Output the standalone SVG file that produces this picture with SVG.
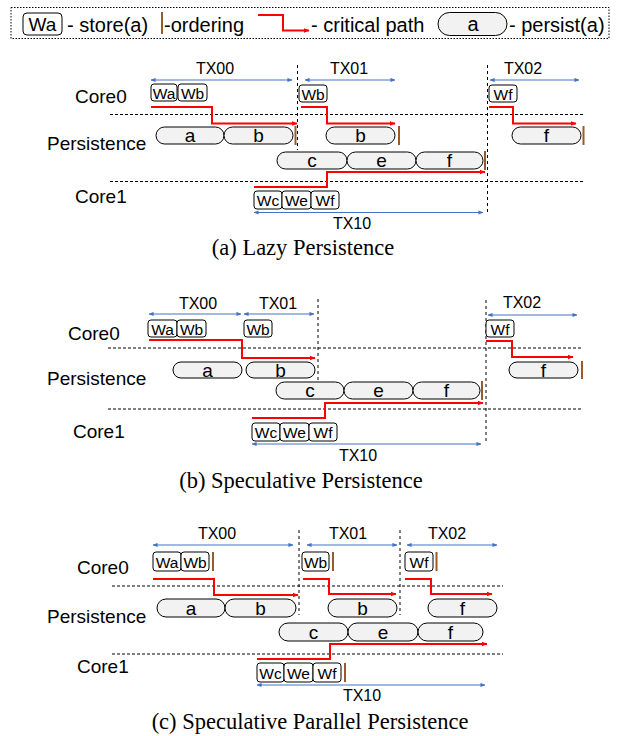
<svg xmlns="http://www.w3.org/2000/svg" width="618" height="736" viewBox="0 0 618 736">
<defs>
<marker id="ar" viewBox="0 0 6 6" refX="5.5" refY="3" markerWidth="6" markerHeight="6" markerUnits="userSpaceOnUse" orient="auto"><path d="M0,0.5 L6,3 L0,5.5 z" fill="#FF0000"/></marker>
<marker id="ab" viewBox="0 0 6 6" refX="5.5" refY="3" markerWidth="5" markerHeight="5" markerUnits="userSpaceOnUse" orient="auto-start-reverse"><path d="M0,0.5 L6,3 L0,5.5 z" fill="#4472C4"/></marker>
</defs>
<style>
.lbl{font-family:"Liberation Sans",Arial,sans-serif;font-size:19px;fill:#000}
.lg{font-family:"Liberation Sans",Arial,sans-serif;font-size:20px;fill:#000}
.tx{font-family:"Liberation Sans",Arial,sans-serif;font-size:16px;fill:#000;text-anchor:middle}
.bt{font-family:"Liberation Sans",Arial,sans-serif;font-size:15.5px;fill:#000;text-anchor:middle}
.pt{font-family:"Liberation Sans",Arial,sans-serif;font-size:19px;fill:#000;text-anchor:middle}
.cap{font-family:"Liberation Serif","Times New Roman",serif;font-size:22.5px;fill:#000;text-anchor:middle}
.box{fill:#fff;stroke:#000;stroke-width:1}
.pill{fill:#F2F2F2;stroke:#000;stroke-width:1}
.ord{stroke:#9C5A2A;stroke-width:2}
.crit{fill:none;stroke:#FF0000;stroke-width:2;marker-end:url(#ar)}
.blue{stroke:#4472C4;stroke-width:1;marker-start:url(#ab);marker-end:url(#ab)}
.sep{stroke:#000;stroke-width:1;stroke-dasharray:3,2}
.vd{stroke:#000;stroke-width:1;stroke-dasharray:3,3}
</style>
<rect width="618" height="736" fill="#fff"/>

<!-- Legend -->
<g id="legend">
<rect x="11" y="7.5" width="598" height="31" fill="none" stroke="#000" stroke-width="1" stroke-dasharray="1.5,1.5"/>
<rect class="box" x="23" y="13" width="39" height="22" rx="4"/>
<text class="lg" x="42.5" y="31" text-anchor="middle" style="font-size:19px">Wa</text>
<text class="lg" x="67" y="32">- store(a)</text>
<line class="ord" x1="162" y1="12" x2="162" y2="34"/>
<text class="lg" x="164" y="32">-ordering</text>
<path class="crit" d="M258,15 H283 V30.5 H309"/>
<text class="lg" x="311" y="32">- critical path</text>
<rect class="pill" x="438" y="12.5" width="69" height="23" rx="11.5"/>
<text class="lg" x="473" y="31" text-anchor="middle">a</text>
<text class="lg" x="509" y="32">- persist(a)</text>
</g>

<!-- ============ Panel (a) ============ -->
<g id="a-labels">
<text class="lbl" x="75" y="103">Core0</text>
<text class="lbl" x="47" y="150">Persistence</text>
<text class="lbl" x="75" y="203">Core1</text>
<text class="tx" x="215" y="74">TX00</text>
<text class="tx" x="349" y="74">TX01</text>
<text class="tx" x="523" y="74">TX02</text>
<text class="tx" x="352" y="229">TX10</text>
<text class="cap" x="303" y="255">(a) Lazy Persistence</text>
</g>
<g id="a-guides">
<line class="sep" x1="110" y1="114.5" x2="583" y2="114.5"/>
<line class="sep" x1="110" y1="181.5" x2="583" y2="181.5"/>
<line class="vd" x1="297.5" y1="65" x2="297.5" y2="150"/>
<line class="vd" x1="487.5" y1="65" x2="487.5" y2="213"/>
</g>
<g id="a-core0">
<rect class="box" x="151" y="84" width="26" height="17" rx="3"/><text class="bt" x="164" y="98.5">Wa</text>
<rect class="box" x="178" y="84" width="29" height="17" rx="3"/><text class="bt" x="192.5" y="98.5">Wb</text>
<rect class="box" x="299" y="85" width="28" height="17" rx="3"/><text class="bt" x="313" y="99.5">Wb</text>
<rect class="box" x="489" y="85" width="28" height="17" rx="3"/><text class="bt" x="503" y="99.5">Wf</text>
</g>
<g id="a-persist">
<rect class="pill" x="156" y="127" width="68" height="17" rx="8.5"/><text class="pt" x="190" y="142">a</text>
<rect class="pill" x="224" y="127" width="69" height="17" rx="8.5"/><text class="pt" x="258.5" y="142">b</text>
<line class="ord" x1="295.5" y1="126" x2="295.5" y2="145"/>
<rect class="pill" x="326" y="127" width="69" height="17" rx="8.5"/><text class="pt" x="360.5" y="142">b</text>
<line class="ord" x1="399" y1="126" x2="399" y2="145"/>
<rect class="pill" x="512" y="127" width="69" height="17" rx="8.5"/><text class="pt" x="546.5" y="142">f</text>
<line class="ord" x1="583.5" y1="126" x2="583.5" y2="145"/>
<rect class="pill" x="277" y="152" width="70" height="17" rx="8.5"/><text class="pt" x="312" y="167">c</text>
<rect class="pill" x="347" y="152" width="69" height="17" rx="8.5"/><text class="pt" x="381.5" y="167">e</text>
<rect class="pill" x="416" y="152" width="67" height="17" rx="8.5"/><text class="pt" x="449.5" y="167">f</text>
<line class="ord" x1="485" y1="151" x2="485" y2="170"/>
</g>
<g id="a-core1">
<rect class="box" x="254" y="191" width="28" height="18" rx="3"/><text class="bt" x="268" y="205.5">Wc</text>
<rect class="box" x="282" y="191" width="29" height="18" rx="3"/><text class="bt" x="296.5" y="205.5">We</text>
<rect class="box" x="311" y="191" width="28" height="18" rx="3"/><text class="bt" x="325" y="205.5">Wf</text>
</g>
<g id="a-connectors">
<line class="blue" x1="151" y1="80" x2="292" y2="80"/>
<line class="blue" x1="305" y1="80" x2="395" y2="80"/>
<line class="blue" x1="490" y1="80" x2="579" y2="80"/>
<line class="blue" x1="254" y1="212.5" x2="483" y2="212.5"/>
<path class="crit" d="M151,107 H212 V123.5 H297"/>
<path class="crit" d="M301,107 H327 V123.5 H395"/>
<path class="crit" d="M489,107 H513 V123.5 H576"/>
<path class="crit" d="M254,187 H327 V172 H485"/>
</g>

<!-- ============ Panel (b) ============ -->
<g id="b-labels">
<text class="lbl" x="68" y="340">Core0</text>
<text class="lbl" x="47" y="385">Persistence</text>
<text class="lbl" x="73" y="438">Core1</text>
<text class="tx" x="198" y="309">TX00</text>
<text class="tx" x="278" y="309">TX01</text>
<text class="tx" x="522" y="308">TX02</text>
<text class="tx" x="358" y="461">TX10</text>
<text class="cap" x="301" y="488">(b) Speculative Persistence</text>
</g>
<g id="b-guides">
<line class="sep" x1="108" y1="348" x2="581" y2="348"/>
<line class="sep" x1="108" y1="409" x2="581" y2="409"/>
<line class="vd" x1="318" y1="299" x2="318" y2="381"/>
<line class="vd" x1="486" y1="300" x2="486" y2="444"/>
</g>
<g id="b-core0">
<rect class="box" x="148" y="320" width="29" height="17" rx="3"/><text class="bt" x="162.5" y="334.5">Wa</text>
<rect class="box" x="177" y="320" width="29" height="17" rx="3"/><text class="bt" x="191.5" y="334.5">Wb</text>
<rect class="box" x="244" y="320" width="28" height="17" rx="3"/><text class="bt" x="258" y="334.5">Wb</text>
<rect class="box" x="486" y="320" width="28" height="17" rx="3"/><text class="bt" x="500" y="334.5">Wf</text>
</g>
<g id="b-persist">
<rect class="pill" x="173" y="362" width="69" height="16" rx="8"/><text class="pt" x="207.5" y="376.5">a</text>
<rect class="pill" x="246" y="362" width="69" height="16" rx="8"/><text class="pt" x="280.5" y="376.5">b</text>
<rect class="pill" x="509" y="362" width="69" height="16" rx="8"/><text class="pt" x="543.5" y="376.5">f</text>
<line class="ord" x1="582" y1="361" x2="582" y2="379"/>
<rect class="pill" x="276" y="382" width="68" height="17" rx="8.5"/><text class="pt" x="310" y="397">c</text>
<rect class="pill" x="344" y="382" width="69" height="17" rx="8.5"/><text class="pt" x="378.5" y="397">e</text>
<rect class="pill" x="413" y="382" width="67" height="17" rx="8.5"/><text class="pt" x="446.5" y="397">f</text>
<line class="ord" x1="482" y1="381" x2="482" y2="400"/>
</g>
<g id="b-core1">
<rect class="box" x="252" y="423" width="28" height="18" rx="3"/><text class="bt" x="266" y="437.5">Wc</text>
<rect class="box" x="280" y="423" width="29" height="18" rx="3"/><text class="bt" x="294.5" y="437.5">We</text>
<rect class="box" x="309" y="423" width="28" height="18" rx="3"/><text class="bt" x="323" y="437.5">Wf</text>
</g>
<g id="b-connectors">
<line class="blue" x1="149" y1="314" x2="241" y2="314"/>
<line class="blue" x1="244" y1="314" x2="314" y2="314"/>
<line class="blue" x1="488" y1="315" x2="577" y2="315"/>
<line class="blue" x1="252" y1="444" x2="481" y2="444"/>
<path class="crit" d="M149,340 H242 V358 H315"/>
<path class="crit" d="M486,341 H512 V357 H573"/>
<path class="crit" d="M252,418 H325 V403 H483"/>
</g>

<!-- ============ Panel (c) ============ -->
<g id="c-labels">
<text class="lbl" x="77" y="574">Core0</text>
<text class="lbl" x="47" y="623">Persistence</text>
<text class="lbl" x="77" y="673">Core1</text>
<text class="tx" x="217" y="539">TX00</text>
<text class="tx" x="348" y="539">TX01</text>
<text class="tx" x="447" y="539">TX02</text>
<text class="tx" x="362" y="701">TX10</text>
<text class="cap" x="310" y="729">(c) Speculative Parallel Persistence</text>
</g>
<g id="c-guides">
<line class="sep" x1="112" y1="586" x2="503" y2="586"/>
<line class="sep" x1="112" y1="654" x2="503" y2="654"/>
<line class="vd" x1="299" y1="530" x2="299" y2="615"/>
<line class="vd" x1="400" y1="530" x2="400" y2="615"/>
</g>
<g id="c-core0">
<rect class="box" x="153" y="552" width="28" height="19" rx="3"/><text class="bt" x="167" y="567.5">Wa</text>
<rect class="box" x="181" y="552" width="28" height="19" rx="3"/><text class="bt" x="195" y="567.5">Wb</text>
<line class="ord" x1="213" y1="552" x2="213" y2="571"/>
<rect class="box" x="302" y="552" width="27" height="19" rx="3"/><text class="bt" x="315.5" y="567.5">Wb</text>
<line class="ord" x1="333" y1="552" x2="333" y2="571"/>
<rect class="box" x="405" y="552" width="28" height="19" rx="3"/><text class="bt" x="419" y="567.5">Wf</text>
<line class="ord" x1="436.5" y1="552" x2="436.5" y2="571"/>
</g>
<g id="c-persist">
<rect class="pill" x="157" y="599" width="68" height="18" rx="9"/><text class="pt" x="191" y="614.5">a</text>
<rect class="pill" x="225" y="599" width="71" height="18" rx="9"/><text class="pt" x="260.5" y="614.5">b</text>
<rect class="pill" x="328" y="599" width="69" height="18" rx="9"/><text class="pt" x="362.5" y="614.5">b</text>
<rect class="pill" x="428" y="599" width="69" height="18" rx="9"/><text class="pt" x="462.5" y="614.5">f</text>
<rect class="pill" x="279" y="623" width="69" height="18" rx="9"/><text class="pt" x="313.5" y="638.5">c</text>
<rect class="pill" x="348" y="623" width="70" height="18" rx="9"/><text class="pt" x="383" y="638.5">e</text>
<rect class="pill" x="418" y="623" width="65" height="18" rx="9"/><text class="pt" x="450.5" y="638.5">f</text>
</g>
<g id="c-core1">
<rect class="box" x="257" y="663" width="27" height="19" rx="3"/><text class="bt" x="270.5" y="678.5">Wc</text>
<rect class="box" x="284" y="663" width="29" height="19" rx="3"/><text class="bt" x="298.5" y="678.5">We</text>
<rect class="box" x="313" y="663" width="28" height="19" rx="3"/><text class="bt" x="327" y="678.5">Wf</text>
<line class="ord" x1="345" y1="663" x2="345" y2="682"/>
</g>
<g id="c-connectors">
<line class="blue" x1="153" y1="545" x2="293" y2="545"/>
<line class="blue" x1="307" y1="545" x2="397" y2="545"/>
<line class="blue" x1="407" y1="545" x2="497" y2="545"/>
<line class="blue" x1="257" y1="685" x2="485" y2="685"/>
<path class="crit" d="M153,579 H214 V595 H298"/>
<path class="crit" d="M303,579 H329 V594 H396"/>
<path class="crit" d="M405,579 H431 V594 H492"/>
<path class="crit" d="M257,659 H330 V644 H487"/>
</g>
</svg>
